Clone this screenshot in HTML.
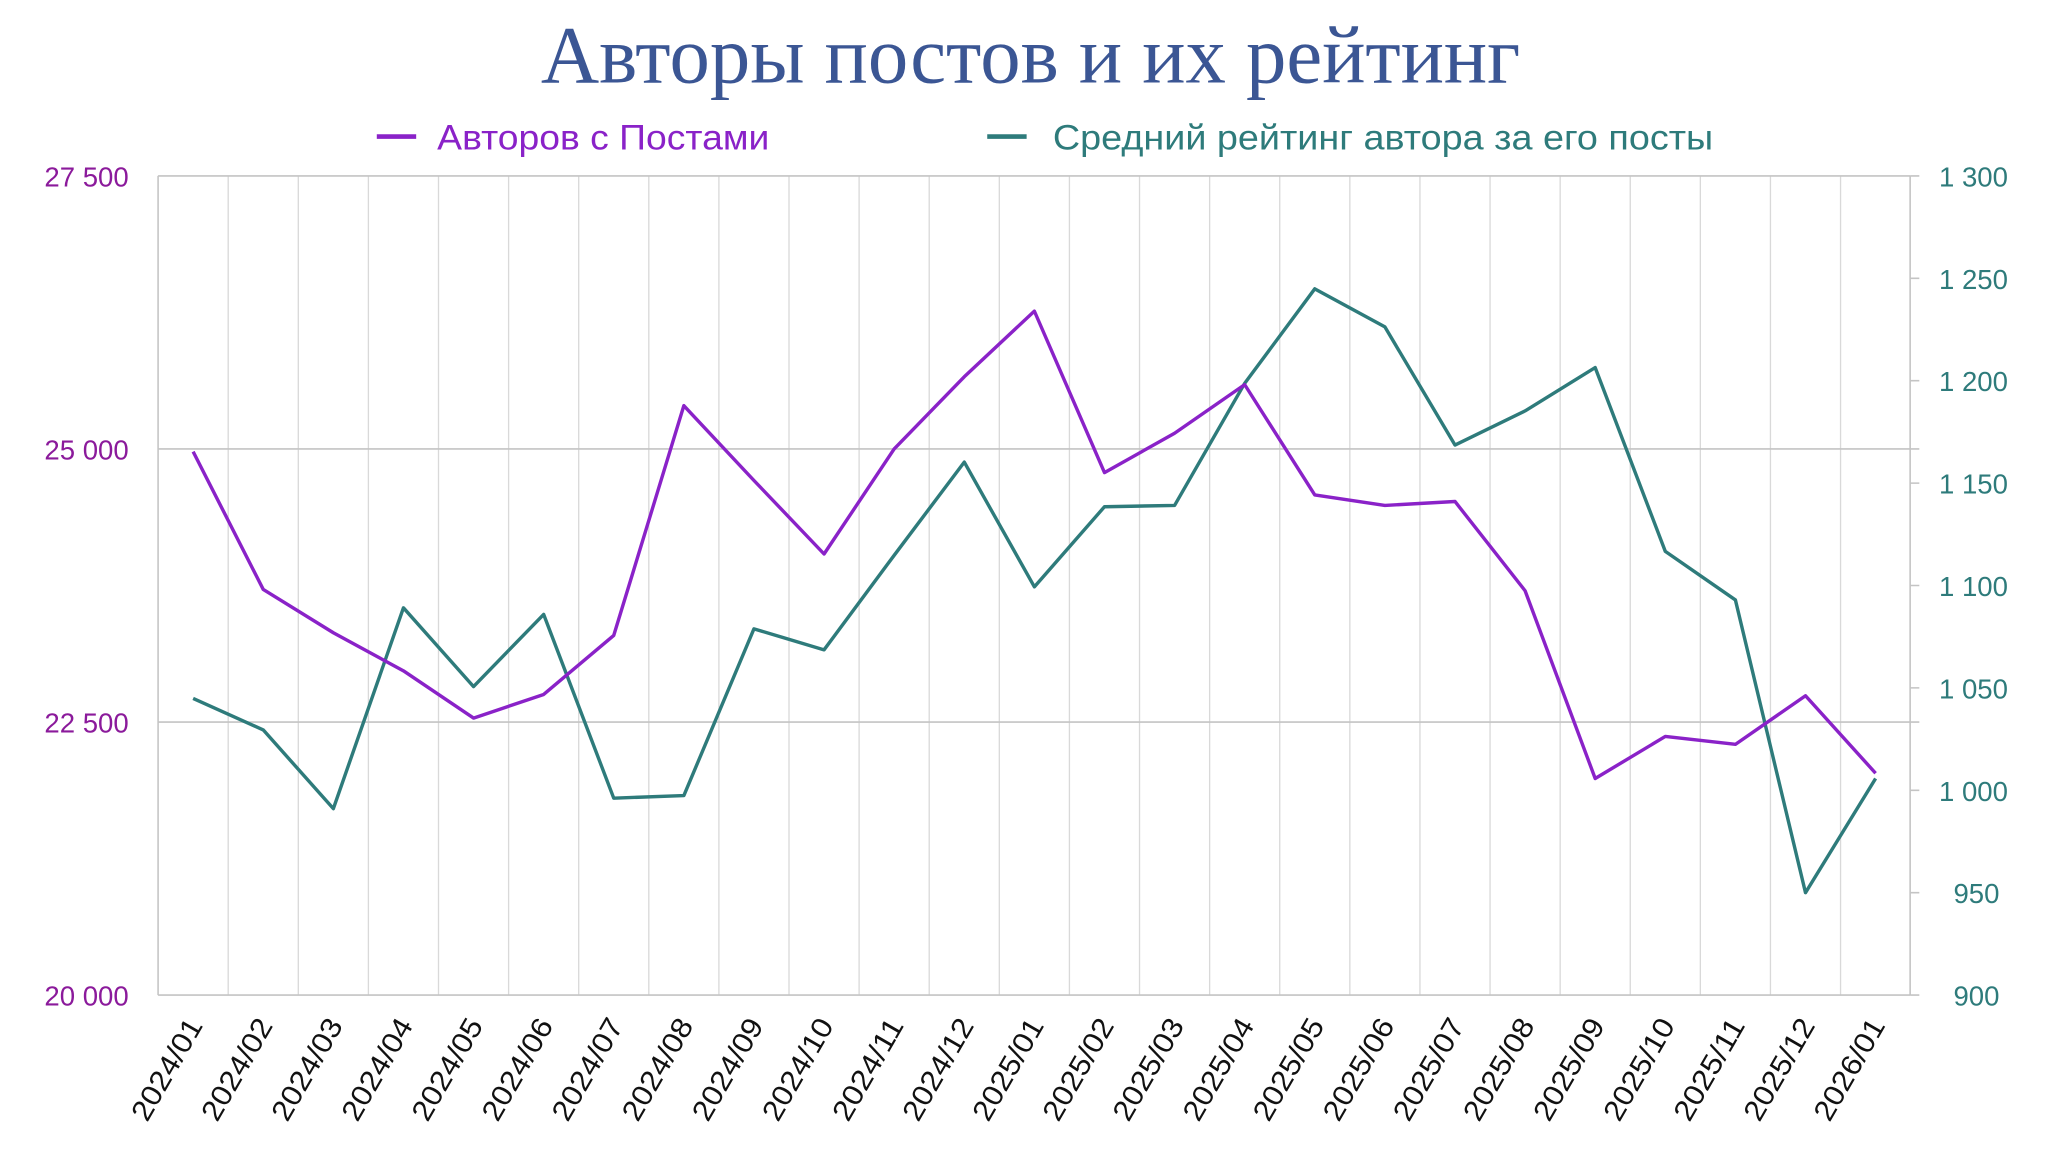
<!DOCTYPE html>
<html><head><meta charset="utf-8"><style>html,body{margin:0;padding:0;background:#fff}svg{display:block}</style></head>
<body>
<svg width="2048" height="1150" viewBox="0 0 1560 876" xmlns="http://www.w3.org/2000/svg">
<text x="785" y="63" text-anchor="middle" font-family="Liberation Serif, serif" font-size="62" fill="#3b5694" textLength="746" lengthAdjust="spacingAndGlyphs">Авторы постов и их рейтинг</text>
<line x1="287" y1="104" x2="317" y2="104" stroke="#8a22c8" stroke-width="3.5"/>
<text x="333" y="114" font-family="Liberation Sans, sans-serif" font-size="27" fill="#8a22c8" textLength="253" lengthAdjust="spacingAndGlyphs">Авторов с Постами</text>
<line x1="752" y1="104" x2="782" y2="104" stroke="#2e7b7b" stroke-width="3.5"/>
<text x="802" y="114" font-family="Liberation Sans, sans-serif" font-size="27" fill="#2e7b7b" textLength="503" lengthAdjust="spacingAndGlyphs">Средний рейтинг автора за его посты</text>
<g stroke="#d9d9d9" stroke-width="1">
<path d="M173.8 134V758M227.2 134V758M280.6 134V758M334 134V758M387.4 134V758M440.8 134V758M494.2 134V758M547.6 134V758M601 134V758M654.4 134V758M707.8 134V758M761.2 134V758M814.6 134V758M868 134V758M921.4 134V758M974.8 134V758M1028.2 134V758M1081.6 134V758M1135 134V758M1188.4 134V758M1241.8 134V758M1295.2 134V758M1348.6 134V758M1402 134V758"/>
</g>
<g stroke="#c4c4c4" stroke-width="1.2" fill="none">
<path d="M120.4 134H1455M120.4 342H1462M120.4 550H1462M120.4 758H1455"/>
<path d="M120.4 134V758M1455 134V758"/>
<path d="M1455 134H1462M1455 212H1462M1455 290H1462M1455 368H1462M1455 446H1462M1455 524H1462M1455 602H1462M1455 680H1462M1455 758H1462"/>
</g>
<g font-family="Liberation Sans, sans-serif" font-size="21" fill="#8b1a9b" text-anchor="end">
<text x="98" y="142">27 500</text><text x="98" y="350">25 000</text><text x="98" y="558">22 500</text><text x="98" y="766">20 000</text>
</g>
<g font-family="Liberation Sans, sans-serif" font-size="21" fill="#2e7b7b">
<text x="1477" y="142">1 300</text><text x="1477" y="220">1 250</text><text x="1477" y="298">1 200</text><text x="1477" y="376">1 150</text><text x="1477" y="454">1 100</text><text x="1477" y="532">1 050</text><text x="1477" y="610">1 000</text><text x="1488" y="688">950</text><text x="1488" y="766">900</text>
</g>
<polyline fill="none" stroke="#2e7b7b" stroke-width="2.6" stroke-linejoin="round" points="147.1,532 200.5,556 253.9,616 307.3,463 360.7,523 414.1,468 467.5,608 520.9,606 574.3,479 627.7,495 681.1,423 734.5,352 787.9,447 841.3,386 894.7,385 948.1,292 1001.5,220 1054.9,249 1108.3,339 1161.7,313 1215.1,280 1268.5,420 1321.9,457 1375.3,680 1428.7,593"/>
<polyline fill="none" stroke="#8a22c8" stroke-width="2.6" stroke-linejoin="round" points="147.1,344 200.5,449 253.9,482 307.3,511 360.7,547 414.1,529 467.5,484 520.9,309 574.3,366 627.7,422 681.1,342 734.5,287 787.9,237 841.3,360 894.7,330 948.1,293 1001.5,377 1054.9,385 1108.3,382 1161.7,450 1215.1,593 1268.5,561 1321.9,567 1375.3,530 1428.7,589"/>
<g font-family="Liberation Sans, sans-serif" font-size="22" fill="#111" text-anchor="end">
<text transform="translate(155,781) rotate(-60)" textLength="86" lengthAdjust="spacingAndGlyphs">2024/01</text>
<text transform="translate(208.4,781) rotate(-60)" textLength="86" lengthAdjust="spacingAndGlyphs">2024/02</text>
<text transform="translate(261.8,781) rotate(-60)" textLength="86" lengthAdjust="spacingAndGlyphs">2024/03</text>
<text transform="translate(315.2,781) rotate(-60)" textLength="86" lengthAdjust="spacingAndGlyphs">2024/04</text>
<text transform="translate(368.6,781) rotate(-60)" textLength="86" lengthAdjust="spacingAndGlyphs">2024/05</text>
<text transform="translate(422,781) rotate(-60)" textLength="86" lengthAdjust="spacingAndGlyphs">2024/06</text>
<text transform="translate(475.4,781) rotate(-60)" textLength="86" lengthAdjust="spacingAndGlyphs">2024/07</text>
<text transform="translate(528.8,781) rotate(-60)" textLength="86" lengthAdjust="spacingAndGlyphs">2024/08</text>
<text transform="translate(582.2,781) rotate(-60)" textLength="86" lengthAdjust="spacingAndGlyphs">2024/09</text>
<text transform="translate(635.6,781) rotate(-60)" textLength="86" lengthAdjust="spacingAndGlyphs">2024/10</text>
<text transform="translate(689,781) rotate(-60)" textLength="86" lengthAdjust="spacingAndGlyphs">2024/11</text>
<text transform="translate(742.4,781) rotate(-60)" textLength="86" lengthAdjust="spacingAndGlyphs">2024/12</text>
<text transform="translate(795.8,781) rotate(-60)" textLength="86" lengthAdjust="spacingAndGlyphs">2025/01</text>
<text transform="translate(849.2,781) rotate(-60)" textLength="86" lengthAdjust="spacingAndGlyphs">2025/02</text>
<text transform="translate(902.6,781) rotate(-60)" textLength="86" lengthAdjust="spacingAndGlyphs">2025/03</text>
<text transform="translate(956,781) rotate(-60)" textLength="86" lengthAdjust="spacingAndGlyphs">2025/04</text>
<text transform="translate(1009.4,781) rotate(-60)" textLength="86" lengthAdjust="spacingAndGlyphs">2025/05</text>
<text transform="translate(1062.8,781) rotate(-60)" textLength="86" lengthAdjust="spacingAndGlyphs">2025/06</text>
<text transform="translate(1116.2,781) rotate(-60)" textLength="86" lengthAdjust="spacingAndGlyphs">2025/07</text>
<text transform="translate(1169.6,781) rotate(-60)" textLength="86" lengthAdjust="spacingAndGlyphs">2025/08</text>
<text transform="translate(1223,781) rotate(-60)" textLength="86" lengthAdjust="spacingAndGlyphs">2025/09</text>
<text transform="translate(1276.4,781) rotate(-60)" textLength="86" lengthAdjust="spacingAndGlyphs">2025/10</text>
<text transform="translate(1329.8,781) rotate(-60)" textLength="86" lengthAdjust="spacingAndGlyphs">2025/11</text>
<text transform="translate(1383.2,781) rotate(-60)" textLength="86" lengthAdjust="spacingAndGlyphs">2025/12</text>
<text transform="translate(1436.6,781) rotate(-60)" textLength="86" lengthAdjust="spacingAndGlyphs">2026/01</text>
</g>
</svg>
</body></html>
